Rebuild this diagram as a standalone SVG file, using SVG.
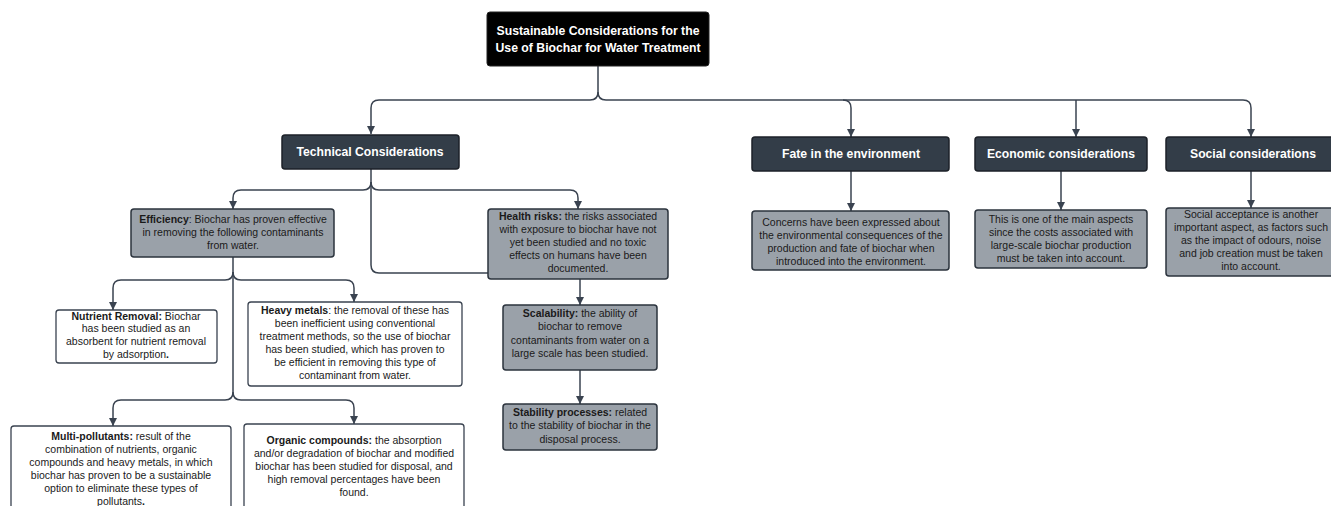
<svg xmlns="http://www.w3.org/2000/svg" width="1331" height="506" viewBox="0 0 1331 506">
<style>
.bg{fill:#ffffff}
.title{fill:#000000;stroke:#222;stroke-width:1}
.dark{fill:#333d48;stroke:#1c2128;stroke-width:1.5}
.gray{fill:#9aa1a9;stroke:#2b333d;stroke-width:1.5}
.white{fill:#ffffff;stroke:#3a4350;stroke-width:1.3}
.hd{font-family:"Liberation Sans",Arial,sans-serif;font-weight:bold;font-size:12.5px;fill:#ffffff;text-anchor:middle}
.tx{font-family:"Liberation Sans",Arial,sans-serif;font-size:10.5px;fill:#1a1a1a;text-anchor:middle}
.b{font-weight:bold}
.con{fill:none;stroke:#3a4350;stroke-width:1.5}
</style>
<defs>
<marker id="arr" viewBox="0 0 8 8" refX="8" refY="4" markerWidth="8" markerHeight="8" markerUnits="userSpaceOnUse" orient="auto">
<path d="M0,0 L8,4 L0,8 z" fill="#3a4350"/>
</marker>
</defs>
<rect class="bg" x="0" y="0" width="1331" height="506"/>

<g id="connectors">
<path class="con" d="M598,66 V92 Q598,100 590,100 H379 Q371,100 371,108 V134" marker-end="url(#arr)"/>
<path class="con" d="M598,92 Q598,100 606,100 H843 Q851,100 851,108 V137" marker-end="url(#arr)"/>
<path class="con" d="M843,100 H1243 Q1251,100 1251,108 V137" marker-end="url(#arr)"/>
<path class="con" d="M1076,100 V137" marker-end="url(#arr)"/>
<path class="con" d="M371,169 V182 Q371,190 363,190 H241 Q233,190 233,198 V209" marker-end="url(#arr)"/>
<path class="con" d="M371,182 Q371,190 379,190 H570 Q578,190 578,198 V209" marker-end="url(#arr)"/>
<path class="con" d="M371,182 V265 Q371,273 379,273 H488"/>
<path class="con" d="M233,257 V272 Q233,280 225,280 H121 Q113,280 113,288 V310" marker-end="url(#arr)"/>
<path class="con" d="M233,272 Q233,280 241,280 H346 Q354,280 354,288 V302" marker-end="url(#arr)"/>
<path class="con" d="M233,272 V392 Q233,400 225,400 H121 Q113,400 113,408 V426" marker-end="url(#arr)"/>
<path class="con" d="M233,392 Q233,400 241,400 H346 Q354,400 354,408 V424" marker-end="url(#arr)"/>
<path class="con" d="M580,279 V305" marker-end="url(#arr)"/>
<path class="con" d="M580,370 V404" marker-end="url(#arr)"/>
<path class="con" d="M851,171 V211" marker-end="url(#arr)"/>
<path class="con" d="M1061,171 V210" marker-end="url(#arr)"/>
<path class="con" d="M1251,171 V208" marker-end="url(#arr)"/>
</g>

<g id="title">
<rect class="title" x="487" y="12" width="222" height="54" rx="3"/>
<text class="hd" x="598" y="35" textLength="203" lengthAdjust="spacingAndGlyphs">Sustainable Considerations for the</text>
<text class="hd" x="598" y="52" textLength="205" lengthAdjust="spacingAndGlyphs">Use of Biochar for Water Treatment</text>
</g>

<g id="technical">
<rect class="dark" x="282" y="135" width="177" height="34" rx="3"/>
<text class="hd" x="370" y="156" textLength="147" lengthAdjust="spacingAndGlyphs">Technical Considerations</text>
</g>

<g id="fate">
<rect class="dark" x="752" y="137" width="197" height="34" rx="3"/>
<text class="hd" x="851" y="158" textLength="138" lengthAdjust="spacingAndGlyphs">Fate in the environment</text>
</g>

<g id="economic">
<rect class="dark" x="975" y="137" width="172" height="34" rx="3"/>
<text class="hd" x="1061" y="158" textLength="148" lengthAdjust="spacingAndGlyphs">Economic considerations</text>
</g>

<g id="social">
<rect class="dark" x="1166" y="137" width="172" height="34" rx="3"/>
<text class="hd" x="1253" y="158" textLength="126" lengthAdjust="spacingAndGlyphs">Social considerations</text>
</g>

<g id="fate-text">
<rect class="gray" x="752" y="211" width="197" height="59" rx="3"/>
<text class="tx" x="851" y="226">Concerns have been expressed about</text>
<text class="tx" x="851" y="239">the environmental consequences of the</text>
<text class="tx" x="851" y="252">production and fate of biochar when</text>
<text class="tx" x="851" y="265">introduced into the environment.</text>
</g>

<g id="economic-text">
<rect class="gray" x="975" y="210" width="172" height="58" rx="3"/>
<text class="tx" x="1061" y="223">This is one of the main aspects</text>
<text class="tx" x="1061" y="236">since the costs associated with</text>
<text class="tx" x="1061" y="249">large-scale biochar production</text>
<text class="tx" x="1061" y="262">must be taken into account.</text>
</g>

<g id="social-text">
<rect class="gray" x="1166" y="208" width="172" height="68" rx="3"/>
<text class="tx" x="1251" y="218">Social acceptance is another</text>
<text class="tx" x="1251" y="231">important aspect, as factors such</text>
<text class="tx" x="1251" y="244">as the impact of odours, noise</text>
<text class="tx" x="1251" y="257">and job creation must be taken</text>
<text class="tx" x="1251" y="270">into account.</text>
</g>

<g id="efficiency">
<rect class="gray" x="131" y="209" width="203" height="48" rx="3"/>
<text class="tx" x="233" y="223"><tspan class="b">Efficiency</tspan>: Biochar has proven effective</text>
<text class="tx" x="233" y="236">in removing the following contaminants</text>
<text class="tx" x="233" y="249">from water.</text>
</g>

<g id="health">
<rect class="gray" x="488" y="209" width="180" height="70" rx="3"/>
<text class="tx" x="578" y="220"><tspan class="b">Health risks:</tspan> the risks associated</text>
<text class="tx" x="578" y="233">with exposure to biochar have not</text>
<text class="tx" x="578" y="246">yet been studied and no toxic</text>
<text class="tx" x="578" y="259">effects on humans have been</text>
<text class="tx" x="578" y="272">documented.</text>
</g>

<g id="nutrient">
<rect class="white" x="56" y="310" width="161" height="53" rx="3"/>
<text class="tx" x="136" y="320"><tspan class="b">Nutrient Removal:</tspan> Biochar</text>
<text class="tx" x="136" y="332">has been studied as an</text>
<text class="tx" x="136" y="345">absorbent for nutrient removal</text>
<text class="tx" x="136" y="358">by adsorption<tspan class="b">.</tspan></text>
</g>

<g id="heavy">
<rect class="white" x="248" y="302" width="214" height="84" rx="3"/>
<text class="tx" x="355" y="314"><tspan class="b">Heavy metals</tspan>: the removal of these has</text>
<text class="tx" x="355" y="327">been inefficient using conventional</text>
<text class="tx" x="355" y="340">treatment methods, so the use of biochar</text>
<text class="tx" x="355" y="353">has been studied, which has proven to</text>
<text class="tx" x="355" y="366">be efficient in removing this type of</text>
<text class="tx" x="355" y="379">contaminant from water.</text>
</g>

<g id="multi">
<rect class="white" x="11" y="426" width="220" height="90" rx="3"/>
<text class="tx" x="121" y="440"><tspan class="b">Multi-pollutants:</tspan> result of the</text>
<text class="tx" x="121" y="453">combination of nutrients, organic</text>
<text class="tx" x="121" y="466">compounds and heavy metals, in which</text>
<text class="tx" x="121" y="479">biochar has proven to be a sustainable</text>
<text class="tx" x="121" y="492">option to eliminate these types of</text>
<text class="tx" x="121" y="505">pollutants<tspan class="b">.</tspan></text>
</g>

<g id="organic">
<rect class="white" x="244" y="424" width="220" height="92" rx="3"/>
<text class="tx" x="354" y="444"><tspan class="b">Organic compounds:</tspan> the absorption</text>
<text class="tx" x="354" y="457">and/or degradation of biochar and modified</text>
<text class="tx" x="354" y="470">biochar has been studied for disposal, and</text>
<text class="tx" x="354" y="483">high removal percentages have been</text>
<text class="tx" x="354" y="496">found.</text>
</g>

<g id="scalability">
<rect class="gray" x="503" y="305" width="154" height="65" rx="3"/>
<text class="tx" x="580" y="317"><tspan class="b">Scalability:</tspan> the ability of</text>
<text class="tx" x="580" y="330">biochar to remove</text>
<text class="tx" x="580" y="344">contaminants from water on a</text>
<text class="tx" x="580" y="357">large scale has been studied.</text>
</g>

<g id="stability">
<rect class="gray" x="503" y="404" width="154" height="46" rx="3"/>
<text class="tx" x="580" y="416"><tspan class="b">Stability processes:</tspan> related</text>
<text class="tx" x="580" y="429">to the stability of biochar in the</text>
<text class="tx" x="580" y="443">disposal process.</text>
</g>
</svg>
